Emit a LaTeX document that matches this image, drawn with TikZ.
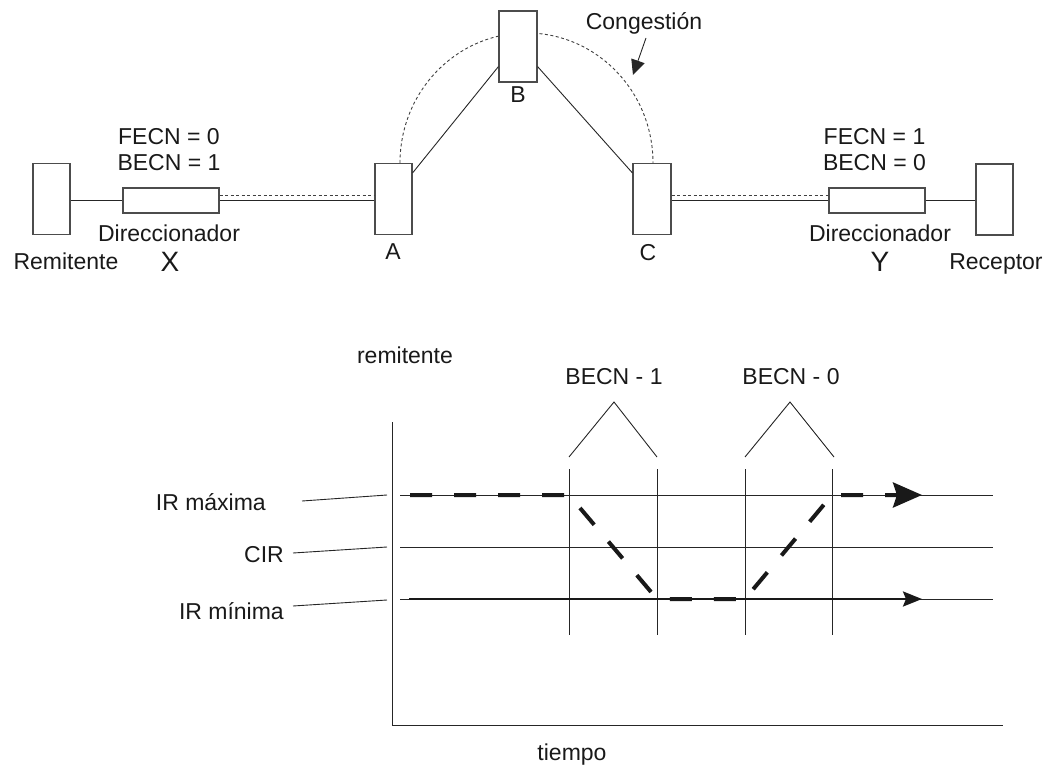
\documentclass[tikz,border=0pt]{standalone}
\usepackage{fontspec}
\setmainfont{Liberation Sans}
\usetikzlibrary{arrows.meta,calc}
\begin{document}
\begin{tikzpicture}[x=1pt,y=-1pt,
  box/.style={draw=black!70, line width=1.1pt, fill=white, inner sep=0pt},
  tallbox/.style={box, minimum width=37pt, minimum height=71pt},
  router/.style={box, minimum width=96pt, minimum height=25pt},
  lbl/.style={inner sep=0pt, font=\fontsize{23}{27}\selectfont, text=black!90},
  biglbl/.style={inner sep=0pt, font=\fontsize{28}{32}\selectfont, text=black!90},
  thinln/.style={line width=0.9pt, draw=black!85},
  dotln/.style={line width=0.9pt, draw=black!75, dash pattern=on 3pt off 2.5pt},
  thickdash/.style={line width=4pt, draw=black!90, dash pattern=on 22pt off 22pt,
     -{Stealth[length=29pt,width=25pt,inset=4pt]}},
  thicksolid/.style={line width=2.5pt, draw=black!90,
     -{Stealth[length=19pt,width=15pt,inset=3pt]}},
]
\useasboundingbox (0,0) rectangle (1058,768);

% ---------- network ----------
\node[tallbox] (rem) at (51.5,199) {};
\node[router] (X) at (171,200.5) {};
\node[tallbox] (A) at (393.5,199) {};
\node[tallbox, minimum width=38pt] (C) at (652,199) {};
\node[router] (Y) at (877,200.5) {};
\node[tallbox] (rec) at (994.5,199.5) {};

% dotted congestion arc (behind B)
\draw[dotln] ($(A.north)+(6.5,0)$) arc[start angle=180, end angle=360, x radius=126.5, y radius=130];

\node[tallbox, minimum width=38pt] (B) at (518,46.5) {};

% links
\draw[thinln] (rem.east |- X.west) -- (X.west);
\draw[thinln] (X.east) -- (X.east -| A.west);
\draw[dotln] ($(X.east)+(0,-5.5)$) -- ($(X.east -| A.west)+(0,-5.5)$);
\draw[thinln] ($(A.north east)+(0,10)$) -- ($(B.south west)+(0,-16)$);
\draw[thinln] ($(B.south east)+(0,-16)$) -- ($(C.north west)+(0,10)$);
\draw[thinln] (C.east |- Y.west) -- (Y.west);
\draw[dotln] ($(C.east |- Y.west)+(0,-5.5)$) -- ($(Y.west)+(0,-5.5)$);
\draw[thinln] (Y.east) -- (Y.east -| rec.west);

% labels
\node[lbl] (f0) at (169,137) {FECN = 0};
\node[lbl] (b1) at (169,163) {BECN = 1};
\node[lbl] (dx) at (169,233) {Direccionador};
\node[biglbl] (lx) at (170,262) {X};
\node[lbl] (lrem) at (66,261) {Remitente};
\node[lbl] (la) at (393,252) {A};
\node[lbl] (lb) at (518,95) {B};
\node[lbl] (lc) at (648,253) {C};
\node[lbl] (f1) at (874.5,137) {FECN = 1};
\node[lbl] (b0) at (874.5,163) {BECN = 0};
\node[lbl] (dy) at (880,233) {Direccionador};
\node[biglbl] (ly) at (880,262) {Y};
\node[lbl, anchor=base] (lrec) at (996,269) {Receptor};

\node[lbl, anchor=base] (cong) at (644,30) {Congestión};
\coordinate (congtip) at (633,75);
\draw[thinln, -{Triangle[length=15pt,width=14pt]}] ($(cong.south)+(2,3)$) -- (congtip);

% ---------- chart ----------
\draw[thinln] (392,422) -- (392,725) -- (1003,725);
\foreach \yy in {495,547,599} \draw[thinln] (400,\yy) -- (993,\yy);
\foreach \xx in {569,657,745,832} \draw[thinln] (\xx,469) -- (\xx,635);
\draw[thinln] (569,457) -- (614,402) -- (657,457);
\draw[thinln] (745,457) -- (790,402) -- (834,457);

\node[lbl] (remt) at (405,355) {remitente};
\node[lbl] (bc1) at (614,377) {BECN - 1};
\node[lbl] (bc0) at (791,377) {BECN - 0};
\node[lbl, anchor=base] (tiem) at (572,760) {tiempo};

\node[lbl, anchor=east] (irmax) at (266,502) {IR máxima};
\node[lbl, anchor=east] (cir) at (284,555) {CIR};
\node[lbl, anchor=east] (irmin) at (284,611) {IR mínima};
\draw[thinln] ($(irmax.east)+(36,-1)$) -- (387,495);
\draw[thinln] ($(cir.east)+(9,-2)$) -- (387,547);
\draw[thinln] ($(irmin.east)+(9,-5)$) -- (387,600);

\draw[thicksolid] (409,599) -- (922,599);
\draw[thickdash] (410,495) -- (569,495) -- (657,599) -- (745,599) -- (832,495) -- (922,495);
\end{tikzpicture}
\end{document}
